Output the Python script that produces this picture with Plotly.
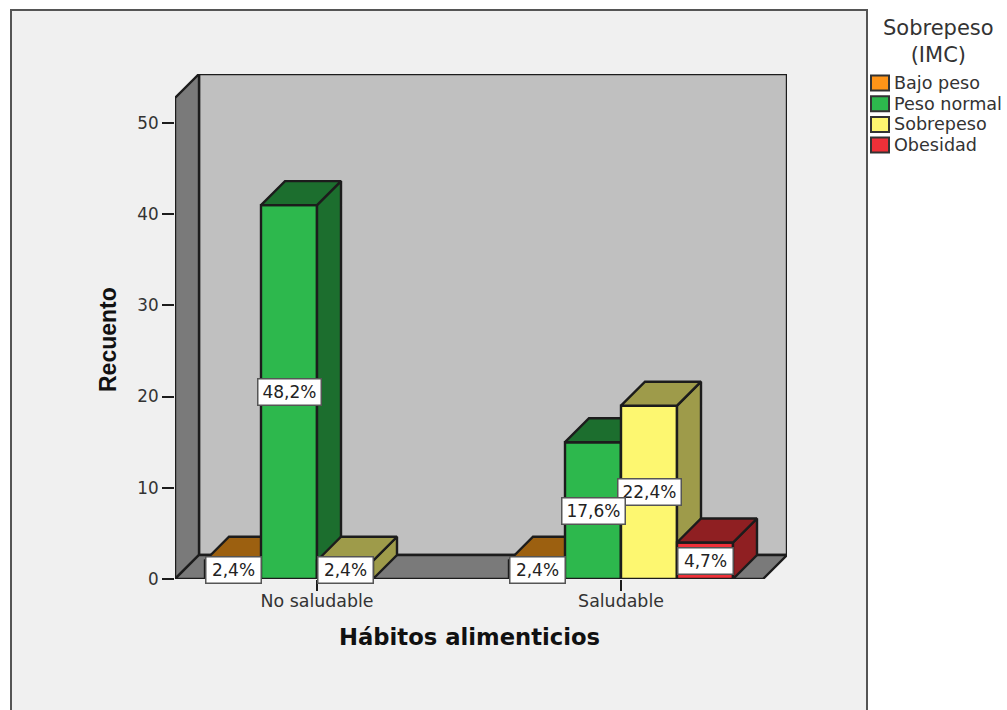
import plotly.graph_objects as go

categories = ["No saludable", "Saludable"]
series_names = ["Bajo peso", "Peso normal", "Sobrepeso", "Obesidad"]
counts = {
    "Bajo peso": [2, 2],
    "Peso normal": [41, 15],
    "Sobrepeso": [2, 19],
    "Obesidad": [0, 4],
}
percent_labels = {
    "Bajo peso": ["2,4%", "2,4%"],
    "Peso normal": ["48,2%", "17,6%"],
    "Sobrepeso": ["2,4%", "22,4%"],
    "Obesidad": ["", "4,7%"],
}
y_ticks = [0, 10, 20, 30, 40, 50]

front_colors = {"Bajo peso": "#ff9418", "Peso normal": "#2db84d", "Sobrepeso": "#fdf770", "Obesidad": "#ef3038"}
dark_colors = {"Bajo peso": "#9c6010", "Peso normal": "#1c6e2e", "Sobrepeso": "#9e9b4a", "Obesidad": "#8f1f22"}

W, H = 1007, 710
PX_L, PX_R, PX_T, PX_B = 175, 787, 74, 579      # plot area in pixels
PX_PER_CAT = 304
PX_PER_UNIT = 9.12
CAT0_PX = 317
BAR_PX = 56
DEPTH_PX = 24

dx = DEPTH_PX / PX_PER_CAT
dy = DEPTH_PX / PX_PER_UNIT
bw = BAR_PX / PX_PER_CAT
xmin = (PX_L - CAT0_PX) / PX_PER_CAT
xmax = (PX_R - CAT0_PX) / PX_PER_CAT
ymax = (PX_B - PX_T) / PX_PER_UNIT
wall_top = ymax - dy
LINE = "#1c1c1c"


def poly(xs, ys, fill, name="", lw=2.4):
    return go.Scatter(
        x=xs + xs[:1], y=ys + ys[:1], mode="lines", fill="toself", fillcolor=fill,
        line=dict(color=LINE, width=lw), hoverinfo="skip" if not name else "name",
        name=name, showlegend=False, cliponaxis=False,
    )


fig = go.Figure()
xf0, xf1 = xmin, xmax - dx
# back wall, left wall, floor
fig.add_trace(poly([xf0 + dx, xmax, xmax, xf0 + dx], [dy, dy, ymax, ymax], "#c0c0c0"))
fig.add_trace(poly([xf0, xf0 + dx, xf0 + dx, xf0], [0, dy, ymax, wall_top], "#7a7a7a"))
fig.add_trace(poly([xf0, xf1, xmax, xf0 + dx], [0, 0, dy, dy], "#7a7a7a"))

annotations = []
for c, cat in enumerate(categories):
    for s, name in enumerate(series_names):
        v = counts[name][c]
        if v == 0:
            continue
        x0 = c + (s - 2) * bw
        x1 = x0 + bw
        fig.add_trace(poly([x0, x1, x1, x0], [0, 0, v, v], front_colors[name], name))
        fig.add_trace(poly([x1, x1 + dx, x1 + dx, x1], [0, dy, v + dy, v], dark_colors[name], name))
        fig.add_trace(poly([x0, x1, x1 + dx, x0 + dx], [v, v, v + dy, v + dy], dark_colors[name], name))

for c, cat in enumerate(categories):
    for s in reversed(range(len(series_names))):
        name = series_names[s]
        v = counts[name][c]
        if v == 0:
            continue
        label = percent_labels[name][c]
        annotations.append(dict(
            x=c + (s - 2) * bw + bw / 2, y=v / 2, xref="x", yref="y", text=label,
            showarrow=False, bgcolor="white", bordercolor="#555555", borderwidth=1.5,
            width=54 if len(label) == 4 else 62, height=25, align="center", valign="middle", borderpad=0,
            font=dict(family="DejaVu Sans", size=17, color="#222222"),
        ))


def px_x(p):
    return (p - PX_L) / (PX_R - PX_L)


def px_y(p):
    return (PX_B - p) / (PX_B - PX_T)


def paper_text(text, x, y, size, color="#222222", family="DejaVu Sans", angle=0):
    return dict(x=px_x(x), y=px_y(y), xref="paper", yref="paper", text=text, showarrow=False,
                xanchor="center", yanchor="middle", textangle=angle,
                font=dict(family=family, size=size, color=color))


annotations.append(paper_text("<b>Hábitos alimenticios</b>", 469, 637, 22.7, "#111111"))
annotations.append(paper_text("<b>Recuento</b>", 108, 340, 23, "#111111", "Liberation Sans", -90))
annotations.append(paper_text("Sobrepeso<br>(IMC)", 938, 42, 21, "#333333"))

shapes = [dict(type="rect", xref="paper", yref="paper", layer="below",
               x0=px_x(11), x1=px_x(867), y0=px_y(760), y1=px_y(10),
               fillcolor="#f0f0f0", line=dict(color="#555555", width=2))]

legend_top = 83
for i, name in enumerate(series_names):
    yc = legend_top + i * 20.7
    shapes.append(dict(type="rect", xref="paper", yref="paper", layer="above",
                       x0=px_x(871), x1=px_x(889), y0=px_y(yc + 7.5), y1=px_y(yc - 7.5),
                       fillcolor=front_colors[name], line=dict(color="#333333", width=2)))
    ann = paper_text(name, 892, yc, 17.6, "#333333")
    ann["xanchor"] = "left"
    annotations.append(ann)

fig.update_layout(
    width=W, height=H, margin=dict(l=PX_L, r=W - PX_R, t=PX_T, b=H - PX_B),
    paper_bgcolor="white", plot_bgcolor="rgba(0,0,0,0)", showlegend=False,
    shapes=shapes, annotations=annotations,
    xaxis=dict(range=[xmin, xmax], tickmode="array", tickvals=list(range(len(categories))),
               ticktext=categories, ticks="outside", ticklen=11, tickwidth=2, tickcolor=LINE,
               showgrid=False, zeroline=False, showline=False, ticklabelstandoff=-5,
               tickfont=dict(family="DejaVu Sans", size=17.4, color="#333333")),
    yaxis=dict(range=[0, ymax], tickmode="array", tickvals=y_ticks,
               ticks="outside", ticklen=12, tickwidth=2, tickcolor=LINE,
               showgrid=False, zeroline=False, showline=False,
               tickfont=dict(family="DejaVu Sans", size=16.8, color="#333333")),
)
fig.write_html("out.html", config={"displayModeBar": False},
               post_script="document.body.style.margin='0';document.body.style.overflow='hidden';")
